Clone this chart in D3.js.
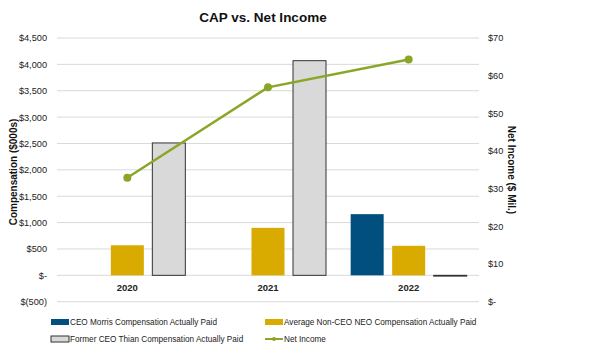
<!DOCTYPE html>
<html><head><meta charset="utf-8">
<script src="https://cdn.jsdelivr.net/npm/d3@7"></script>
<style>
body{margin:0;background:#fff;}
text{font-family:"Liberation Sans",Arial,sans-serif;}
</style></head>
<body><svg id="c" width="604" height="355"></svg>
<script>
const years = ["2020","2021","2022"];
const ceoMorris = [null, null, 1160];
const avgNonCeo = [570, 900, 560];
const formerCeo = [2510, 4070, -15];
const netIncome = [32.9, 56.9, 64.3];
const leftTicks = [-500,0,500,1000,1500,2000,2500,3000,3500,4000,4500];
const rightTicks = [0,10,20,30,40,50,60,70];

const seriesNames = ["CEO Morris Compensation Actually Paid","Average Non-CEO NEO Compensation Actually Paid","Former CEO Thian Compensation Actually Paid","Net Income"];
const colors = {blue:"#004f7e", gold:"#d9aa00", gray:"#d9d9d9", green:"#8aa626"};

const svg = d3.select("#c");
const L=57, R=479, T=38, B=301.7;
const x = d3.scaleBand().domain(years).range([L,R]);
const yL = d3.scaleLinear().domain([-500,4500]).range([B,T]);
const yR = d3.scaleLinear().domain([0,70]).range([B,T]);

const fmtL = v => v===0 ? "$-" : (v<0 ? "$(" + d3.format(",")(-v) + ")" : "$" + d3.format(",")(v));
const fmtR = v => v===0 ? "$-" : "$" + v;

// gridlines
svg.append("g").selectAll("line").data(leftTicks).join("line")
  .attr("x1",L).attr("x2",R).attr("y1",d=>yL(d)).attr("y2",d=>yL(d))
  .attr("stroke","#d9d9d9").attr("stroke-width",1);

// left axis
const axL = svg.append("g").attr("transform",`translate(${L},0)`)
  .call(d3.axisLeft(yL).tickValues(leftTicks).tickFormat(fmtL).tickSize(0).tickPadding(10));
axL.select(".domain").remove();
axL.selectAll("text").attr("font-size","9.2px").attr("fill","#222").attr("font-family","Liberation Sans, Arial");

const axR = svg.append("g").attr("transform",`translate(${R},0)`)
  .call(d3.axisRight(yR).tickValues(rightTicks).tickFormat(fmtR).tickSize(0).tickPadding(9));
axR.select(".domain").remove();
axR.selectAll("text").attr("font-size","9.2px").attr("fill","#222").attr("font-family","Liberation Sans, Arial");

// bars
const bw = 33, off = 41.5;
const series = [
  {vals:ceoMorris, fill:colors.blue, stroke:"none", o:-off},
  {vals:avgNonCeo, fill:colors.gold, stroke:"none", o:0},
  {vals:formerCeo, fill:colors.gray, stroke:"#333", o:off}
];
series.forEach(s=>{
  svg.append("g").selectAll("rect").data(years.map((y,i)=>({y, v:s.vals[i]})).filter(d=>d.v!==null)).join("rect")
    .attr("x",d=>x(d.y)+x.bandwidth()/2+s.o-bw/2)
    .attr("width",bw)
    .attr("y",d=>Math.min(yL(d.v),yL(0)))
    .attr("height",d=>Math.abs(yL(d.v)-yL(0)))
    .attr("fill",s.fill).attr("stroke",s.stroke).attr("stroke-width",s.stroke==="none"?0:1);
});

// category labels
svg.append("g").selectAll("text").data(years).join("text")
  .attr("x",d=>x(d)+x.bandwidth()/2).attr("y",291)
  .attr("text-anchor","middle").attr("font-size","9.5px").attr("font-weight","bold").attr("fill","#222")
  .text(d=>d);

// net income line
const line = d3.line().x((d,i)=>x(years[i])+x.bandwidth()/2).y(d=>yR(d));
svg.append("path").datum(netIncome).attr("d",line).attr("fill","none")
  .attr("stroke",colors.green).attr("stroke-width",2.5);
svg.append("g").selectAll("circle").data(netIncome).join("circle")
  .attr("cx",(d,i)=>x(years[i])+x.bandwidth()/2).attr("cy",d=>yR(d)).attr("r",4)
  .attr("fill",colors.green);

// title
svg.append("text").attr("x",263).attr("y",22).attr("text-anchor","middle")
  .attr("font-size","13.5px").attr("font-weight","bold").attr("fill","#111").text("CAP vs. Net Income");

// axis titles
svg.append("text").attr("transform","translate(17,172) rotate(-90)").attr("text-anchor","middle")
  .attr("font-size","10px").attr("font-weight","bold").attr("fill","#111").text("Compensation ($000s)");
svg.append("text").attr("transform","translate(508,170) rotate(90)").attr("text-anchor","middle")
  .attr("font-size","10px").attr("font-weight","bold").attr("fill","#111").text("Net Income ($ Mil.)");

// legend
const lg = svg.append("g").attr("fill","#222");
const items = [
  {x:51, y:322, type:"rect", fill:colors.blue, stroke:"none", name:seriesNames[0]},
  {x:265, y:322, type:"rect", fill:colors.gold, stroke:"none", name:seriesNames[1]},
  {x:51, y:339, type:"rect", fill:colors.gray, stroke:"#333", name:seriesNames[2]},
  {x:265, y:339, type:"line", fill:colors.green, name:seriesNames[3]}
];
items.forEach(it=>{
  if(it.type==="rect"){
    lg.append("rect").attr("x",it.x).attr("y",it.y-3).attr("width",18).attr("height",6)
      .attr("fill",it.fill).attr("stroke",it.stroke).attr("stroke-width",it.stroke==="none"?0:1);
  } else {
    lg.append("line").attr("x1",it.x).attr("x2",it.x+18).attr("y1",it.y).attr("y2",it.y)
      .attr("stroke",it.fill).attr("stroke-width",2);
    lg.append("circle").attr("cx",it.x+9).attr("cy",it.y).attr("r",2).attr("fill",it.fill);
  }
  lg.append("text").attr("x",it.x+19).attr("y",it.y+3.2).attr("font-size","8.2px").attr("fill","#222").text(it.name);
});
</script></body></html>
